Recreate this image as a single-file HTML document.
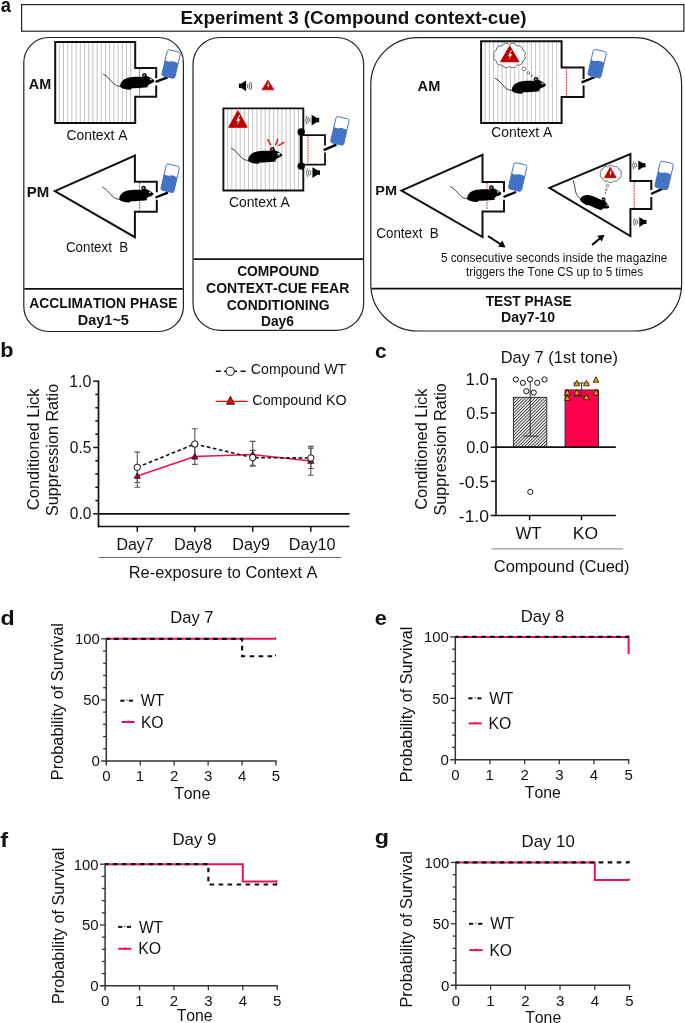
<!DOCTYPE html><html><head><meta charset="utf-8"><style>html,body{margin:0;padding:0;background:#fff;}svg{display:block;will-change:transform;}text{font-family:"Liberation Sans", sans-serif;font-kerning:none;font-variant-ligatures:none;}</style></head><body>
<svg width="685" height="1023" viewBox="0 0 685 1023">

<defs>
 <g id="mbody">
  <path d="M17.2,12.8 C16.6,9 19.5,5 25,3.6 C30,2.4 36,2.5 40,2.9 C42,1.6 44.6,1.7 46,3 C48.3,4 50.2,5.4 51.4,6.9 C50.8,8.3 48.7,9.2 46.6,9.8 C45.7,10.6 44.5,11.5 44,12.3 L45.6,13 L42.4,13.5 C38,14 33,14.2 28.6,14.2 L27.4,15.6 L23.5,15.3 C20.6,14.9 18.2,14 17.2,12.8 Z" fill="#000"/>
  <circle cx="41.3" cy="1.1" r="2.3" fill="#000"/>
  <circle cx="41.2" cy="1.1" r="1.05" fill="#999"/>
  <circle cx="47.7" cy="5.3" r="0.85" fill="#fff"/>
 </g>
 <g id="mouse">
  <path d="M0,0 C4,1.5 7,6 10,9 C12.5,11.3 14.5,12.3 18,12.3" fill="none" stroke="#111" stroke-width="0.8"/>
  <use href="#mbody"/>
 </g>
 <g id="bottle">
  <rect x="0" y="0" width="13.4" height="27" rx="2.2" fill="#fff" stroke="#4472c4" stroke-width="0.9"/>
  <path d="M0,10.8 C2.5,11.8 4.5,11.6 6.5,10.6 C8.5,9.9 10.5,10.5 13.4,11.1 L13.4,24.8 Q13.4,27 11.2,27 L2.2,27 Q0,27 0,24.8 Z" fill="#4472c4"/>
 </g>
 <g id="spk">
  <rect x="0" y="2.8" width="2.8" height="4.5" fill="#000"/>
  <path d="M2.5,2.8 L7.2,-0.2 L7.2,10.5 L2.5,7.3 Z" fill="#000"/>
  <path d="M8.5,3.2 Q9.6,5.15 8.5,7.1 M10.1,2 Q11.8,5.15 10.1,8.3 M11.8,0.9 Q14,5.15 11.8,9.4" fill="none" stroke="#222" stroke-width="0.7"/>
 </g>
 <g id="warn">
  <path d="M6,0 L12,10 L0,10 Z" fill="#c00000" stroke="#c00000" stroke-width="0.8" stroke-linejoin="round"/>
  <path d="M6.9,2.5 L4.9,6.1 L6.2,6.1 L5.3,9 L7.6,5.1 L6.3,5.1 L7.4,2.5 Z" fill="#fff"/>
 </g>
 <pattern id="hatch" x="0" y="0" width="2.25" height="2.25" patternUnits="userSpaceOnUse" patternTransform="rotate(-45)">
  <rect x="0" y="0" width="2.25" height="0.95" fill="#3a3a3a"/>
 </pattern>
</defs>

<rect width="685" height="1023" fill="#fff"/>
<text x="0.66" y="11.7" font-size="21" font-weight="bold" fill="#111" textLength="10.22" lengthAdjust="spacingAndGlyphs">a</text>
<rect x="21.6" y="4.6" width="662.3" height="26.6" fill="none" stroke="#222" stroke-width="1.2"/>
<text x="180.44" y="24.3" font-size="18.5" font-weight="bold" fill="#111" textLength="346.00" lengthAdjust="spacingAndGlyphs">Experiment 3 (Compound context-cue)</text>
<rect x="23.8" y="37.5" width="159.6" height="294" rx="25" fill="none" stroke="#222" stroke-width="1.2"/>
<line x1="24.4" y1="288.9" x2="182.8" y2="288.9" stroke="#111" stroke-width="1.9"/>
<rect x="193" y="37.5" width="170.6" height="292.8" rx="27" fill="none" stroke="#222" stroke-width="1.2"/>
<line x1="193.6" y1="259.1" x2="363" y2="259.1" stroke="#111" stroke-width="1.9"/>
<rect x="370.8" y="37.6" width="310.8" height="293.4" rx="47" fill="none" stroke="#222" stroke-width="1.2"/>
<line x1="371.4" y1="288.6" x2="681" y2="288.6" stroke="#111" stroke-width="1.9"/>
<text x="28.84" y="89" font-size="14" font-weight="bold" fill="#111" textLength="22.32" lengthAdjust="spacingAndGlyphs">AM</text>
<path d="M59.30,42 V123.1 M63.50,42 V123.1 M67.70,42 V123.1 M71.90,42 V123.1 M76.10,42 V123.1 M80.30,42 V123.1 M84.50,42 V123.1 M88.70,42 V123.1 M92.90,42 V123.1 M97.10,42 V123.1 M101.30,42 V123.1 M105.50,42 V123.1 M109.70,42 V123.1 M113.90,42 V123.1 M118.10,42 V123.1 M122.30,42 V123.1 M126.50,42 V123.1 M130.70,42 V123.1 " stroke="#bdbdbd" stroke-width="0.9" fill="none"/>
<path d="M156.2,78.3 V67.9 H135.2 V42 H55.2 V123.1 H135.2 V96.8 H156.2 V85.5" fill="none" stroke="#111" stroke-width="2" stroke-linejoin="miter"/>
<line x1="139.6" y1="68.9" x2="139.6" y2="95.8" stroke="#e52222" stroke-width="1" stroke-dasharray="1.7,1"/>
<use href="#mouse" transform="translate(103.1,74.1)"/>
<line x1="155.6" y1="81.9" x2="167.6" y2="77.3" stroke="#000" stroke-width="2.4"/>
<use href="#bottle" transform="translate(167.6,49.4) rotate(13)"/>
<text x="66.49" y="140.3" font-size="13.8" fill="#111" textLength="61.03" lengthAdjust="spacingAndGlyphs">Context A</text>
<text x="26.70" y="197" font-size="14.3" font-weight="bold" fill="#111" textLength="22.51" lengthAdjust="spacingAndGlyphs">PM</text>
<path d="M156.8,192.3 V181.7 H134.9 V155.5 L54.9,191 L134.9,237.2 V211.8 H156.8 V199.7" fill="none" stroke="#111" stroke-width="2" stroke-linejoin="miter"/>
<line x1="139.6" y1="182.7" x2="139.6" y2="210.8" stroke="#e52222" stroke-width="1" stroke-dasharray="1.7,1"/>
<use href="#mouse" transform="translate(102.2,187)"/>
<line x1="155.6" y1="197.5" x2="167.9" y2="192.6" stroke="#000" stroke-width="2.4"/>
<use href="#bottle" transform="translate(166.6,163.6) rotate(13)"/>
<text x="65.92" y="252" font-size="14" fill="#111" textLength="62.38" lengthAdjust="spacingAndGlyphs">Context&#160;&#160;B</text>
<text x="29.36" y="307.9" font-size="15" font-weight="bold" fill="#111" textLength="148.18" lengthAdjust="spacingAndGlyphs">ACCLIMATION PHASE</text>
<text x="77.83" y="324.6" font-size="14.7" font-weight="bold" fill="#111" textLength="51.07" lengthAdjust="spacingAndGlyphs">Day1~5</text>
<use href="#spk" transform="translate(238.9,80.8)"/>
<use href="#warn" transform="translate(262,80.2) scale(0.99,0.96)"/>
<path d="M227.70,108.4 V190.5 M231.87,108.4 V190.5 M236.04,108.4 V190.5 M240.21,108.4 V190.5 M244.38,108.4 V190.5 M248.55,108.4 V190.5 M252.72,108.4 V190.5 M256.89,108.4 V190.5 M261.06,108.4 V190.5 M265.23,108.4 V190.5 M269.40,108.4 V190.5 M273.57,108.4 V190.5 M277.74,108.4 V190.5 M281.91,108.4 V190.5 M286.08,108.4 V190.5 M290.25,108.4 V190.5 M294.42,108.4 V190.5 M298.59,108.4 V190.5 " stroke="#bdbdbd" stroke-width="0.9" fill="none"/>
<path d="M303.3,132 V108.4 H223.4 V190.5 H303.3 V166" fill="none" stroke="#111" stroke-width="1.9"/>
<use href="#warn" transform="translate(228.9,111) scale(1.5,1.62)"/>
<line x1="301.2" y1="132" x2="301.2" y2="166.1" stroke="#000" stroke-width="2.9"/>
<circle cx="301.2" cy="132" r="3.7" fill="#000"/><circle cx="301.2" cy="166.1" r="3.7" fill="#000"/>
<path d="M302,135.2 H325 V145.5 M325,152.4 V164.6 H302" fill="none" stroke="#111" stroke-width="1.8"/>
<line x1="308" y1="136.3" x2="308" y2="163.6" stroke="#e52222" stroke-width="1" stroke-dasharray="1.7,1"/>
<use href="#spk" transform="translate(319.2,115) scale(-1.05,1)"/>
<use href="#spk" transform="translate(320,167.5) scale(-1.05,1)"/>
<line x1="323.7" y1="150.1" x2="336.4" y2="144.7" stroke="#000" stroke-width="2.4"/>
<use href="#bottle" transform="translate(336.4,116.2) rotate(13)"/>
<use href="#mouse" transform="translate(231.1,148.2)"/>
<path d="M267.4,138.8 L270.9,145.4 M277.9,138.4 L275.5,145.4 M284.5,142.1 L278.4,145.6" stroke="#e02020" stroke-width="1.5" fill="none"/>
<path d="M277.5,153.2 L280.1,155.8 M280.1,153.2 L277.5,155.8" stroke="#fff" stroke-width="0.8"/>
<text x="228.90" y="206.7" font-size="14" fill="#111" textLength="60.93" lengthAdjust="spacingAndGlyphs">Context A</text>
<text x="237.13" y="276" font-size="14.5" font-weight="bold" fill="#111" textLength="82.15" lengthAdjust="spacingAndGlyphs">COMPOUND</text>
<text x="206.03" y="293" font-size="14" font-weight="bold" fill="#111" textLength="143.26" lengthAdjust="spacingAndGlyphs">CONTEXT-CUE FEAR</text>
<text x="226.83" y="310" font-size="14" font-weight="bold" fill="#111" textLength="102.73" lengthAdjust="spacingAndGlyphs">CONDITIONING</text>
<text x="260.98" y="326.1" font-size="13.8" font-weight="bold" fill="#111" textLength="32.92" lengthAdjust="spacingAndGlyphs">Day6</text>
<text x="417.64" y="90.8" font-size="14" font-weight="bold" fill="#111" textLength="22.64" lengthAdjust="spacingAndGlyphs">AM</text>
<path d="M485.20,41.3 V123 M489.40,41.3 V123 M493.60,41.3 V123 M497.80,41.3 V123 M502.00,41.3 V123 M506.20,41.3 V123 M510.40,41.3 V123 M514.60,41.3 V123 M518.80,41.3 V123 M523.00,41.3 V123 M527.20,41.3 V123 M531.40,41.3 V123 M535.60,41.3 V123 M539.80,41.3 V123 M544.00,41.3 V123 M548.20,41.3 V123 M552.40,41.3 V123 M556.60,41.3 V123 " stroke="#bdbdbd" stroke-width="0.9" fill="none"/>
<path d="M583.6,79 V67.4 H561.6 V41.3 H481.1 V123 H561.6 V97 H583.6 V85.5" fill="none" stroke="#111" stroke-width="2" stroke-linejoin="miter"/>
<line x1="566.4" y1="68.4" x2="566.4" y2="96" stroke="#e52222" stroke-width="1" stroke-dasharray="1.7,1"/>
<use href="#mouse" transform="translate(494.7,78.1)"/>
<path d="M524.70,55.50 A3.46,3.46 0 0 1 522.66,60.90 A4.09,4.09 0 0 1 517.10,64.85 A4.64,4.64 0 0 1 509.50,66.30 A4.64,4.64 0 0 1 501.90,64.85 A4.09,4.09 0 0 1 496.34,60.90 A3.46,3.46 0 0 1 494.30,55.50 A3.46,3.46 0 0 1 496.34,50.10 A4.09,4.09 0 0 1 501.90,46.15 A4.64,4.64 0 0 1 509.50,44.70 A4.64,4.64 0 0 1 517.10,46.15 A4.09,4.09 0 0 1 522.66,50.10 A3.46,3.46 0 0 1 524.70,55.50 Z" fill="#fff" stroke="#333" stroke-width="0.7"/>
<use href="#warn" transform="translate(500.8,46.3) scale(1.49,1.53)"/>
<circle cx="524" cy="68.8" r="1.9" fill="#fff" stroke="#333" stroke-width="0.6"/>
<circle cx="528.4" cy="73" r="1.3" fill="#fff" stroke="#333" stroke-width="0.6"/>
<circle cx="531.9" cy="75.8" r="0.7" fill="#fff" stroke="#333" stroke-width="0.6"/>
<line x1="581.6" y1="82.4" x2="595" y2="77" stroke="#000" stroke-width="2.4"/>
<use href="#bottle" transform="translate(593.6,49) rotate(13)"/>
<text x="491.30" y="136.9" font-size="14" fill="#111" textLength="60.93" lengthAdjust="spacingAndGlyphs">Context A</text>
<text x="375.34" y="195" font-size="13.5" font-weight="bold" fill="#111" textLength="21.63" lengthAdjust="spacingAndGlyphs">PM</text>
<path d="M504,192.3 V181.9 H482.5 V154.9 L401.5,190.5 L482.5,237 V211.6 H504 V199.7" fill="none" stroke="#111" stroke-width="2" stroke-linejoin="miter"/>
<line x1="487" y1="182.9" x2="487" y2="210.6" stroke="#e52222" stroke-width="1" stroke-dasharray="1.7,1"/>
<use href="#mouse" transform="translate(450.1,186.5)"/>
<line x1="503.5" y1="197" x2="516" y2="192" stroke="#000" stroke-width="2.4"/>
<use href="#bottle" transform="translate(514.2,162.4) rotate(13)"/>
<text x="376.32" y="238.3" font-size="14.5" fill="#111" textLength="62.38" lengthAdjust="spacingAndGlyphs">Context&#160;&#160;B</text>
<path d="M651.3,190 V181 H630.4 V154 L549.4,187.8 L630.4,236 V208.9 H651.3 V197" fill="none" stroke="#111" stroke-width="2" stroke-linejoin="miter"/>
<line x1="634.2" y1="182" x2="634.2" y2="207.9" stroke="#e52222" stroke-width="1" stroke-dasharray="1.7,1"/>
<use href="#spk" transform="translate(645.5,160.6) scale(-1,0.92)"/>
<use href="#spk" transform="translate(646.5,217.3) scale(-1,0.92)"/>
<line x1="651" y1="194" x2="663" y2="188.5" stroke="#000" stroke-width="2.4"/>
<use href="#bottle" transform="translate(660.6,160.8) rotate(13)"/>
<path d="M573.3,180.3 C574.5,184 574.8,188 575.5,191.3 C576.3,194.5 577.8,197 580.5,198.6" fill="none" stroke="#111" stroke-width="0.8"/>
<use href="#mbody" transform="translate(579.9,199.2) rotate(25.8) scale(0.88) translate(-17,-12.6)"/>
<path d="M621.00,173.90 A2.86,2.86 0 0 1 619.05,178.25 A3.46,3.46 0 0 1 613.95,180.94 A3.78,3.78 0 0 1 607.65,180.94 A3.46,3.46 0 0 1 602.55,178.25 A2.86,2.86 0 0 1 600.60,173.90 A2.86,2.86 0 0 1 602.55,169.55 A3.46,3.46 0 0 1 607.65,166.86 A3.78,3.78 0 0 1 613.95,166.86 A3.46,3.46 0 0 1 619.05,169.55 A2.86,2.86 0 0 1 621.00,173.90 Z" fill="#fff" stroke="#333" stroke-width="0.7"/>
<use href="#warn" transform="translate(604.4,167.2) scale(0.98,1.05)"/>
<circle cx="607.5" cy="185.6" r="1.3" fill="#fff" stroke="#333" stroke-width="0.6"/>
<circle cx="606.2" cy="189.6" r="0.9" fill="#fff" stroke="#333" stroke-width="0.6"/>
<circle cx="605.6" cy="193" r="0.55" fill="#fff" stroke="#333" stroke-width="0.6"/>
<line x1="488" y1="236" x2="501" y2="244.5" stroke="#000" stroke-width="2"/>
<path d="M505.6,247.4 L498.2,246.8 L502.3,240.6 Z" fill="#000"/>
<line x1="592" y1="245" x2="601" y2="237.5" stroke="#000" stroke-width="2"/>
<path d="M604.5,234.7 L601.8,241.4 L597.2,235.8 Z" fill="#000"/>
<text x="440.93" y="261.9" font-size="13.2" fill="#111" textLength="226.29" lengthAdjust="spacingAndGlyphs">5 consecutive seconds inside the magazine</text>
<text x="466.12" y="275.7" font-size="13.2" fill="#111" textLength="177.00" lengthAdjust="spacingAndGlyphs">triggers the Tone CS up to 5 times</text>
<text x="485.65" y="305.6" font-size="14.2" font-weight="bold" fill="#111" textLength="86.09" lengthAdjust="spacingAndGlyphs">TEST PHASE</text>
<text x="500.96" y="322.4" font-size="14.2" font-weight="bold" fill="#111" textLength="54.12" lengthAdjust="spacingAndGlyphs">Day7-10</text>
<text x="0.32" y="357.1" font-size="21" font-weight="bold" fill="#111" textLength="13.27" lengthAdjust="spacingAndGlyphs">b</text>
<line x1="98.5" y1="380.3999999999999" x2="98.5" y2="527.3" stroke="#111" stroke-width="1.7"/>
<line x1="93.2" y1="513.80" x2="98.5" y2="513.80" stroke="#111" stroke-width="1.5"/>
<line x1="95.3" y1="500.54" x2="98.5" y2="500.54" stroke="#111" stroke-width="1.5"/>
<line x1="95.3" y1="487.28" x2="98.5" y2="487.28" stroke="#111" stroke-width="1.5"/>
<line x1="95.3" y1="474.02" x2="98.5" y2="474.02" stroke="#111" stroke-width="1.5"/>
<line x1="95.3" y1="460.76" x2="98.5" y2="460.76" stroke="#111" stroke-width="1.5"/>
<line x1="93.2" y1="447.50" x2="98.5" y2="447.50" stroke="#111" stroke-width="1.5"/>
<line x1="95.3" y1="434.24" x2="98.5" y2="434.24" stroke="#111" stroke-width="1.5"/>
<line x1="95.3" y1="420.98" x2="98.5" y2="420.98" stroke="#111" stroke-width="1.5"/>
<line x1="95.3" y1="407.72" x2="98.5" y2="407.72" stroke="#111" stroke-width="1.5"/>
<line x1="95.3" y1="394.46" x2="98.5" y2="394.46" stroke="#111" stroke-width="1.5"/>
<line x1="93.2" y1="381.20" x2="98.5" y2="381.20" stroke="#111" stroke-width="1.5"/>
<text x="69.18" y="386.8" font-size="16.4" fill="#111" textLength="22.24" lengthAdjust="spacingAndGlyphs">1.0</text>
<text x="69.79" y="453.1" font-size="16.4" fill="#111" textLength="21.66" lengthAdjust="spacingAndGlyphs">0.5</text>
<text x="69.79" y="519.4" font-size="16.4" fill="#111" textLength="21.61" lengthAdjust="spacingAndGlyphs">0.0</text>
<line x1="98.5" y1="513.80" x2="349.5" y2="513.80" stroke="#111" stroke-width="1.7"/>
<line x1="97.65" y1="526.5" x2="349.5" y2="526.5" stroke="#111" stroke-width="1.7"/>
<line x1="137.3" y1="526.5" x2="137.3" y2="531.8" stroke="#111" stroke-width="1.5"/>
<line x1="194.8" y1="526.5" x2="194.8" y2="531.8" stroke="#111" stroke-width="1.5"/>
<line x1="252.7" y1="526.5" x2="252.7" y2="531.8" stroke="#111" stroke-width="1.5"/>
<line x1="310.8" y1="526.5" x2="310.8" y2="531.8" stroke="#111" stroke-width="1.5"/>
<text x="116.39" y="549.5" font-size="16.8" fill="#111" textLength="37.32" lengthAdjust="spacingAndGlyphs">Day7</text>
<text x="173.96" y="549.5" font-size="16.8" fill="#111" textLength="38.05" lengthAdjust="spacingAndGlyphs">Day8</text>
<text x="232.27" y="549.5" font-size="16.8" fill="#111" textLength="37.79" lengthAdjust="spacingAndGlyphs">Day9</text>
<text x="288.77" y="549.5" font-size="16.8" fill="#111" textLength="46.86" lengthAdjust="spacingAndGlyphs">Day10</text>
<line x1="98.7" y1="557.4" x2="341.3" y2="557.4" stroke="#666" stroke-width="1"/>
<text x="128.75" y="577.8" font-size="15.6" fill="#111" textLength="188.68" lengthAdjust="spacingAndGlyphs">Re-exposure to Context A</text>
<text transform="translate(38.8,510.14) rotate(-90)" x="0" y="0" font-size="17" fill="#111" textLength="121.71" lengthAdjust="spacingAndGlyphs">Conditioned Lick</text>
<text transform="translate(58.3,516.03) rotate(-90)" x="0" y="0" font-size="17" fill="#111" textLength="132.21" lengthAdjust="spacingAndGlyphs">Suppression Ratio</text>
<path d="M137.3,452.1 V482.5 M134.4,452.1 H140.20000000000002 M134.4,482.5 H140.20000000000002" stroke="#555" stroke-width="1.1" fill="none"/>
<path d="M137.3,466.0 V487.2 M134.4,466.0 H140.20000000000002 M134.4,487.2 H140.20000000000002" stroke="#555" stroke-width="1.1" fill="none"/>
<path d="M194.8,428.8 V459.0 M191.9,428.8 H197.70000000000002 M191.9,459.0 H197.70000000000002" stroke="#555" stroke-width="1.1" fill="none"/>
<path d="M194.8,446.6 V464.4 M191.9,446.6 H197.70000000000002 M191.9,464.4 H197.70000000000002" stroke="#555" stroke-width="1.1" fill="none"/>
<path d="M252.7,441.4 V466.1 M249.79999999999998,441.4 H255.6 M249.79999999999998,466.1 H255.6" stroke="#555" stroke-width="1.1" fill="none"/>
<path d="M252.7,450.4 V465.2 M249.79999999999998,450.4 H255.6 M249.79999999999998,465.2 H255.6" stroke="#555" stroke-width="1.1" fill="none"/>
<path d="M310.8,446.4 V468.5 M307.90000000000003,446.4 H313.7 M307.90000000000003,468.5 H313.7" stroke="#555" stroke-width="1.1" fill="none"/>
<path d="M310.8,448.1 V475.3 M307.90000000000003,448.1 H313.7 M307.90000000000003,475.3 H313.7" stroke="#555" stroke-width="1.1" fill="none"/>
<polyline points="137.3,476.0 194.8,456.5 252.7,454.5 310.8,461.0" fill="none" stroke="#f0104a" stroke-width="1.5"/>
<polyline points="137.3,467.3 194.8,444.0 252.7,457.6 310.8,458.0" fill="none" stroke="#111" stroke-width="1.6" stroke-dasharray="3.6,2.6"/>
<path d="M137.3,472.9 L140.4,478.3 L134.20000000000002,478.3 Z" fill="#b0003a" stroke="#111" stroke-width="0.8" stroke-linejoin="round"/>
<path d="M194.8,453.4 L197.9,458.8 L191.70000000000002,458.8 Z" fill="#b0003a" stroke="#111" stroke-width="0.8" stroke-linejoin="round"/>
<path d="M252.7,451.4 L255.79999999999998,456.8 L249.6,456.8 Z" fill="#b0003a" stroke="#111" stroke-width="0.8" stroke-linejoin="round"/>
<path d="M310.8,457.9 L313.90000000000003,463.3 L307.7,463.3 Z" fill="#b0003a" stroke="#111" stroke-width="0.8" stroke-linejoin="round"/>
<circle cx="137.3" cy="467.3" r="3.2" fill="#fff" stroke="#111" stroke-width="1"/>
<circle cx="194.8" cy="444.0" r="3.2" fill="#fff" stroke="#111" stroke-width="1"/>
<circle cx="252.7" cy="457.6" r="3.2" fill="#fff" stroke="#111" stroke-width="1"/>
<circle cx="310.8" cy="458.0" r="3.2" fill="#fff" stroke="#111" stroke-width="1"/>
<path d="M215.8,371.3 H220.9 M224.1,371.3 H226.5 M233.9,371.3 H237 M240.5,371.3 H245.6" stroke="#111" stroke-width="1.5" fill="none"/>
<circle cx="230.2" cy="371.3" r="4.1" fill="#fff" stroke="#111" stroke-width="1"/>
<text x="250.78" y="373.8" font-size="14" fill="#111" textLength="95.45" lengthAdjust="spacingAndGlyphs">Compound WT</text>
<line x1="215.8" y1="401.3" x2="247.6" y2="401.3" stroke="#ff0000" stroke-width="1.3"/>
<path d="M230.4,396.3 L234.5,404.2 L226.5,404.2 Z" fill="#ff0000" stroke="#111" stroke-width="0.9" stroke-linejoin="round"/>
<text x="252.38" y="405.1" font-size="14" fill="#111" textLength="94.20" lengthAdjust="spacingAndGlyphs">Compound KO</text>
<text x="374.98" y="357.8" font-size="21" font-weight="bold" fill="#111" textLength="11.63" lengthAdjust="spacingAndGlyphs">c</text>
<text x="500.65" y="363.2" font-size="16.8" fill="#111" textLength="117.27" lengthAdjust="spacingAndGlyphs">Day 7 (1st tone)</text>
<rect x="513.4" y="397.3" width="33.4" height="49.90" fill="url(#hatch)" stroke="#222" stroke-width="0.9"/>
<rect x="565" y="389.9" width="33.6" height="57.30" fill="#ff004d" stroke="#222" stroke-width="0.8"/>
<path d="M530.2,382 V436.1 M523.4,436.1 H538.8" stroke="#333" stroke-width="1" fill="none"/>
<path d="M581.6,383 V396.1 M573.2,383 H589.3 M573.2,396.1 H589.3" stroke="#333" stroke-width="1" fill="none"/>
<circle cx="515.8" cy="379.5" r="2.6" fill="#fff" stroke="#111" stroke-width="1"/>
<circle cx="522.9" cy="382.8" r="2.6" fill="#fff" stroke="#111" stroke-width="1"/>
<circle cx="530" cy="379.3" r="2.6" fill="#fff" stroke="#111" stroke-width="1"/>
<circle cx="537.2" cy="382.8" r="2.6" fill="#fff" stroke="#111" stroke-width="1"/>
<circle cx="544.5" cy="379.5" r="2.6" fill="#fff" stroke="#111" stroke-width="1"/>
<circle cx="526.3" cy="391.2" r="2.6" fill="#fff" stroke="#111" stroke-width="1"/>
<circle cx="533.7" cy="392.6" r="2.6" fill="#fff" stroke="#111" stroke-width="1"/>
<circle cx="530.3" cy="491.9" r="2.6" fill="#fff" stroke="#111" stroke-width="1"/>
<path d="M576.8,380.3 L579.6999999999999,385.8 L573.9,385.8 Z" fill="#ff9a00" stroke="#111" stroke-width="0.8" stroke-linejoin="round"/>
<path d="M586.4,380.3 L589.3,385.8 L583.5,385.8 Z" fill="#ff9a00" stroke="#111" stroke-width="0.8" stroke-linejoin="round"/>
<path d="M596,376.7 L598.9,382.2 L593.1,382.2 Z" fill="#ff9a00" stroke="#111" stroke-width="0.8" stroke-linejoin="round"/>
<path d="M567.3,389.40000000000003 L570.1999999999999,394.90000000000003 L564.4,394.90000000000003 Z" fill="#ff9a00" stroke="#111" stroke-width="0.8" stroke-linejoin="round"/>
<path d="M576.8,389.40000000000003 L579.6999999999999,394.90000000000003 L573.9,394.90000000000003 Z" fill="#ff9a00" stroke="#111" stroke-width="0.8" stroke-linejoin="round"/>
<path d="M596,389.40000000000003 L598.9,394.90000000000003 L593.1,394.90000000000003 Z" fill="#ff9a00" stroke="#111" stroke-width="0.8" stroke-linejoin="round"/>
<path d="M567.3,394.90000000000003 L570.1999999999999,400.40000000000003 L564.4,400.40000000000003 Z" fill="#ff9a00" stroke="#111" stroke-width="0.8" stroke-linejoin="round"/>
<path d="M586.4,394.2 L589.3,399.7 L583.5,399.7 Z" fill="#ff9a00" stroke="#111" stroke-width="0.8" stroke-linejoin="round"/>
<line x1="496.0" y1="378.09999999999997" x2="496.0" y2="516.3" stroke="#111" stroke-width="1.6"/>
<line x1="490.8" y1="378.90" x2="496.0" y2="378.90" stroke="#111" stroke-width="1.5"/>
<line x1="490.8" y1="413.05" x2="496.0" y2="413.05" stroke="#111" stroke-width="1.5"/>
<line x1="490.8" y1="447.20" x2="496.0" y2="447.20" stroke="#111" stroke-width="1.5"/>
<line x1="490.8" y1="481.35" x2="496.0" y2="481.35" stroke="#111" stroke-width="1.5"/>
<line x1="490.8" y1="515.50" x2="496.0" y2="515.50" stroke="#111" stroke-width="1.5"/>
<line x1="496.0" y1="447.20" x2="615.8" y2="447.20" stroke="#111" stroke-width="1.7"/>
<line x1="496.0" y1="515.50" x2="615.8" y2="515.50" stroke="#111" stroke-width="1.7"/>
<line x1="529.6" y1="515.50" x2="529.6" y2="520.2" stroke="#111" stroke-width="1.5"/>
<line x1="581.5" y1="515.50" x2="581.5" y2="520.2" stroke="#111" stroke-width="1.5"/>
<text x="465.52" y="385.1" font-size="16.6" fill="#111" textLength="23.44" lengthAdjust="spacingAndGlyphs">1.0</text>
<text x="466.16" y="419.25" font-size="16.6" fill="#111" textLength="22.83" lengthAdjust="spacingAndGlyphs">0.5</text>
<text x="466.16" y="453.4" font-size="16.6" fill="#111" textLength="22.78" lengthAdjust="spacingAndGlyphs">0.0</text>
<text x="458.82" y="487.55" font-size="16.6" fill="#111" textLength="30.22" lengthAdjust="spacingAndGlyphs">-0.5</text>
<text x="458.82" y="521.7" font-size="16.6" fill="#111" textLength="30.16" lengthAdjust="spacingAndGlyphs">-1.0</text>
<text x="515.43" y="539.4" font-size="17" fill="#111" textLength="26.06" lengthAdjust="spacingAndGlyphs">WT</text>
<text x="572.87" y="539.4" font-size="17" fill="#111" textLength="25.27" lengthAdjust="spacingAndGlyphs">KO</text>
<line x1="491.5" y1="548.9" x2="623.2" y2="548.9" stroke="#999" stroke-width="1.2"/>
<text x="493.76" y="572.1" font-size="15.6" fill="#111" textLength="135.76" lengthAdjust="spacingAndGlyphs">Compound (Cued)</text>
<text transform="translate(426.5,509.73) rotate(-90)" x="0" y="0" font-size="17" fill="#111" textLength="121.21" lengthAdjust="spacingAndGlyphs">Conditioned Lick</text>
<text transform="translate(446.1,515.44) rotate(-90)" x="0" y="0" font-size="17" fill="#111" textLength="132.32" lengthAdjust="spacingAndGlyphs">Suppression Ratio</text>
<text x="0.45" y="625.1" font-size="21" font-weight="bold" fill="#111" textLength="14.18" lengthAdjust="spacingAndGlyphs">d</text>
<text x="170.24" y="623" font-size="17" fill="#111" textLength="43.29" lengthAdjust="spacingAndGlyphs">Day 7</text>
<path d="M106.3,638.8 H276.0" fill="none" stroke="#ec1052" stroke-width="2"/>
<line x1="275.70" y1="637.00" x2="275.70" y2="638.80" stroke="#ec1052" stroke-width="1"/>
<path d="M106.3,638.8 H242.06 V656.2746 H276.0" fill="none" stroke="#111" stroke-width="2.2" stroke-dasharray="4.6,4.4" stroke-dashoffset="1.2"/>
<line x1="275.50" y1="654.57" x2="275.50" y2="656.27" stroke="#111" stroke-width="1"/>
<line x1="106.3" y1="638.0" x2="106.3" y2="765.5" stroke="#333" stroke-width="1.5"/>
<line x1="101.2" y1="761.0" x2="276.7" y2="761.0" stroke="#333" stroke-width="1.5"/>
<line x1="103.10" y1="748.78" x2="106.3" y2="748.78" stroke="#333" stroke-width="1.3"/>
<line x1="103.10" y1="736.56" x2="106.3" y2="736.56" stroke="#333" stroke-width="1.3"/>
<line x1="103.10" y1="724.34" x2="106.3" y2="724.34" stroke="#333" stroke-width="1.3"/>
<line x1="103.10" y1="712.12" x2="106.3" y2="712.12" stroke="#333" stroke-width="1.3"/>
<line x1="101.20" y1="699.90" x2="106.3" y2="699.90" stroke="#333" stroke-width="1.3"/>
<line x1="103.10" y1="687.68" x2="106.3" y2="687.68" stroke="#333" stroke-width="1.3"/>
<line x1="103.10" y1="675.46" x2="106.3" y2="675.46" stroke="#333" stroke-width="1.3"/>
<line x1="103.10" y1="663.24" x2="106.3" y2="663.24" stroke="#333" stroke-width="1.3"/>
<line x1="103.10" y1="651.02" x2="106.3" y2="651.02" stroke="#333" stroke-width="1.3"/>
<line x1="101.20" y1="638.80" x2="106.3" y2="638.80" stroke="#333" stroke-width="1.3"/>
<line x1="140.24" y1="761.0" x2="140.24" y2="765.5" stroke="#333" stroke-width="1.3"/>
<line x1="174.18" y1="761.0" x2="174.18" y2="765.5" stroke="#333" stroke-width="1.3"/>
<line x1="208.12" y1="761.0" x2="208.12" y2="765.5" stroke="#333" stroke-width="1.3"/>
<line x1="242.06" y1="761.0" x2="242.06" y2="765.5" stroke="#333" stroke-width="1.3"/>
<line x1="276.00" y1="761.0" x2="276.00" y2="765.5" stroke="#333" stroke-width="1.3"/>
<text x="102.13" y="781.3" font-size="15" fill="#111">0</text>
<text x="135.86" y="781.3" font-size="15" fill="#111">1</text>
<text x="170.01" y="781.3" font-size="15" fill="#111">2</text>
<text x="203.99" y="781.3" font-size="15" fill="#111">3</text>
<text x="237.94" y="781.3" font-size="15" fill="#111">4</text>
<text x="271.84" y="781.3" font-size="15" fill="#111">5</text>
<text x="74.97" y="644.2" font-size="15.2" fill="#111" textLength="24.81" lengthAdjust="spacingAndGlyphs">100</text>
<text x="83.15" y="705.3" font-size="15.2" fill="#111" textLength="16.63" lengthAdjust="spacingAndGlyphs">50</text>
<text x="91.41" y="766.4" font-size="15.2" fill="#111" textLength="8.38" lengthAdjust="spacingAndGlyphs">0</text>
<text transform="translate(63.4,780.24) rotate(-90)" x="0" y="0" font-size="17" fill="#111" textLength="157.24" lengthAdjust="spacingAndGlyphs">Probability of Survival</text>
<text x="174.14" y="799.2" font-size="17.3" fill="#111" textLength="36.06" lengthAdjust="spacingAndGlyphs">Tone</text>
<line x1="120.3" y1="700.7" x2="124.5" y2="700.7" stroke="#111" stroke-width="2"/>
<line x1="126.95" y1="699.5" x2="126.95" y2="700.9000000000001" stroke="#111" stroke-width="0.8"/>
<line x1="128.8" y1="700.7" x2="133" y2="700.7" stroke="#111" stroke-width="2"/>
<text x="140.83" y="705.8" font-size="15.6" fill="#111" textLength="23.41" lengthAdjust="spacingAndGlyphs">WT</text>
<line x1="121.8" y1="722" x2="134.6" y2="722" stroke="#ec1052" stroke-width="2"/>
<line x1="128.2" y1="720.2" x2="128.2" y2="722" stroke="#ec1052" stroke-width="0.9"/>
<text x="140.91" y="727.5" font-size="15.6" fill="#111" textLength="22.63" lengthAdjust="spacingAndGlyphs">KO</text>
<text x="374.75" y="624.6" font-size="21" font-weight="bold" fill="#111" textLength="12.09" lengthAdjust="spacingAndGlyphs">e</text>
<text x="520.84" y="621.7" font-size="17" fill="#111" textLength="43.38" lengthAdjust="spacingAndGlyphs">Day 8</text>
<path d="M455.3,636.9 H628.6 V654.092" fill="none" stroke="#ec1052" stroke-width="2"/>
<path d="M455.3,636.9 H628.6" fill="none" stroke="#111" stroke-width="2.2" stroke-dasharray="4.6,4.4" stroke-dashoffset="1.2"/>
<line x1="628.10" y1="635.20" x2="628.10" y2="636.90" stroke="#111" stroke-width="1"/>
<line x1="455.3" y1="636.1" x2="455.3" y2="764.2" stroke="#333" stroke-width="1.5"/>
<line x1="450.2" y1="759.7" x2="629.3000000000001" y2="759.7" stroke="#333" stroke-width="1.5"/>
<line x1="452.10" y1="747.42" x2="455.3" y2="747.42" stroke="#333" stroke-width="1.3"/>
<line x1="452.10" y1="735.14" x2="455.3" y2="735.14" stroke="#333" stroke-width="1.3"/>
<line x1="452.10" y1="722.86" x2="455.3" y2="722.86" stroke="#333" stroke-width="1.3"/>
<line x1="452.10" y1="710.58" x2="455.3" y2="710.58" stroke="#333" stroke-width="1.3"/>
<line x1="450.20" y1="698.30" x2="455.3" y2="698.30" stroke="#333" stroke-width="1.3"/>
<line x1="452.10" y1="686.02" x2="455.3" y2="686.02" stroke="#333" stroke-width="1.3"/>
<line x1="452.10" y1="673.74" x2="455.3" y2="673.74" stroke="#333" stroke-width="1.3"/>
<line x1="452.10" y1="661.46" x2="455.3" y2="661.46" stroke="#333" stroke-width="1.3"/>
<line x1="452.10" y1="649.18" x2="455.3" y2="649.18" stroke="#333" stroke-width="1.3"/>
<line x1="450.20" y1="636.90" x2="455.3" y2="636.90" stroke="#333" stroke-width="1.3"/>
<line x1="489.96" y1="759.7" x2="489.96" y2="764.2" stroke="#333" stroke-width="1.3"/>
<line x1="524.62" y1="759.7" x2="524.62" y2="764.2" stroke="#333" stroke-width="1.3"/>
<line x1="559.28" y1="759.7" x2="559.28" y2="764.2" stroke="#333" stroke-width="1.3"/>
<line x1="593.94" y1="759.7" x2="593.94" y2="764.2" stroke="#333" stroke-width="1.3"/>
<line x1="628.60" y1="759.7" x2="628.60" y2="764.2" stroke="#333" stroke-width="1.3"/>
<text x="451.13" y="780.0" font-size="15" fill="#111">0</text>
<text x="485.58" y="780.0" font-size="15" fill="#111">1</text>
<text x="520.45" y="780.0" font-size="15" fill="#111">2</text>
<text x="555.15" y="780.0" font-size="15" fill="#111">3</text>
<text x="589.82" y="780.0" font-size="15" fill="#111">4</text>
<text x="624.44" y="780.0" font-size="15" fill="#111">5</text>
<text x="423.97" y="642.3" font-size="15.2" fill="#111" textLength="24.81" lengthAdjust="spacingAndGlyphs">100</text>
<text x="432.15" y="703.7" font-size="15.2" fill="#111" textLength="16.63" lengthAdjust="spacingAndGlyphs">50</text>
<text x="440.41" y="765.1" font-size="15.2" fill="#111" textLength="8.38" lengthAdjust="spacingAndGlyphs">0</text>
<text transform="translate(412.1,782.33) rotate(-90)" x="0" y="0" font-size="17" fill="#111" textLength="155.71" lengthAdjust="spacingAndGlyphs">Probability of Survival</text>
<text x="524.74" y="798" font-size="17.3" fill="#111" textLength="36.06" lengthAdjust="spacingAndGlyphs">Tone</text>
<line x1="468.3" y1="698.3" x2="472.5" y2="698.3" stroke="#111" stroke-width="2"/>
<line x1="475.2" y1="697.0999999999999" x2="475.2" y2="698.5" stroke="#111" stroke-width="0.8"/>
<line x1="477.3" y1="698.3" x2="481.5" y2="698.3" stroke="#111" stroke-width="2"/>
<text x="489.23" y="703.8" font-size="15.6" fill="#111" textLength="24.12" lengthAdjust="spacingAndGlyphs">WT</text>
<line x1="468.6" y1="723.4" x2="481.7" y2="723.4" stroke="#ec1052" stroke-width="2"/>
<line x1="475.15" y1="721.6" x2="475.15" y2="723.4" stroke="#ec1052" stroke-width="0.9"/>
<text x="488.50" y="728.8" font-size="15.6" fill="#111" textLength="22.85" lengthAdjust="spacingAndGlyphs">KO</text>
<text x="0.20" y="846.9" font-size="21" font-weight="bold" fill="#111" textLength="7.86" lengthAdjust="spacingAndGlyphs">f</text>
<text x="172.42" y="844.7" font-size="17" fill="#111" textLength="43.98" lengthAdjust="spacingAndGlyphs">Day 9</text>
<path d="M105.1,864.2 H242.78 V881.5888 H277.2" fill="none" stroke="#ec1052" stroke-width="2"/>
<line x1="276.90" y1="879.79" x2="276.90" y2="881.59" stroke="#ec1052" stroke-width="1"/>
<path d="M105.1,864.2 H208.35999999999999 V884.5072 H277.2" fill="none" stroke="#111" stroke-width="2.2" stroke-dasharray="4.6,4.4" stroke-dashoffset="1.2"/>
<line x1="276.70" y1="882.81" x2="276.70" y2="884.51" stroke="#111" stroke-width="1"/>
<line x1="105.1" y1="863.4000000000001" x2="105.1" y2="990.3" stroke="#333" stroke-width="1.5"/>
<line x1="100.0" y1="985.8" x2="277.9" y2="985.8" stroke="#333" stroke-width="1.5"/>
<line x1="101.90" y1="973.64" x2="105.1" y2="973.64" stroke="#333" stroke-width="1.3"/>
<line x1="101.90" y1="961.48" x2="105.1" y2="961.48" stroke="#333" stroke-width="1.3"/>
<line x1="101.90" y1="949.32" x2="105.1" y2="949.32" stroke="#333" stroke-width="1.3"/>
<line x1="101.90" y1="937.16" x2="105.1" y2="937.16" stroke="#333" stroke-width="1.3"/>
<line x1="100.00" y1="925.00" x2="105.1" y2="925.00" stroke="#333" stroke-width="1.3"/>
<line x1="101.90" y1="912.84" x2="105.1" y2="912.84" stroke="#333" stroke-width="1.3"/>
<line x1="101.90" y1="900.68" x2="105.1" y2="900.68" stroke="#333" stroke-width="1.3"/>
<line x1="101.90" y1="888.52" x2="105.1" y2="888.52" stroke="#333" stroke-width="1.3"/>
<line x1="101.90" y1="876.36" x2="105.1" y2="876.36" stroke="#333" stroke-width="1.3"/>
<line x1="100.00" y1="864.20" x2="105.1" y2="864.20" stroke="#333" stroke-width="1.3"/>
<line x1="139.52" y1="985.8" x2="139.52" y2="990.3" stroke="#333" stroke-width="1.3"/>
<line x1="173.94" y1="985.8" x2="173.94" y2="990.3" stroke="#333" stroke-width="1.3"/>
<line x1="208.36" y1="985.8" x2="208.36" y2="990.3" stroke="#333" stroke-width="1.3"/>
<line x1="242.78" y1="985.8" x2="242.78" y2="990.3" stroke="#333" stroke-width="1.3"/>
<line x1="277.20" y1="985.8" x2="277.20" y2="990.3" stroke="#333" stroke-width="1.3"/>
<text x="100.93" y="1006.1" font-size="15" fill="#111">0</text>
<text x="135.14" y="1006.1" font-size="15" fill="#111">1</text>
<text x="169.77" y="1006.1" font-size="15" fill="#111">2</text>
<text x="204.23" y="1006.1" font-size="15" fill="#111">3</text>
<text x="238.66" y="1006.1" font-size="15" fill="#111">4</text>
<text x="273.04" y="1006.1" font-size="15" fill="#111">5</text>
<text x="73.77" y="869.6" font-size="15.2" fill="#111" textLength="24.81" lengthAdjust="spacingAndGlyphs">100</text>
<text x="81.95" y="930.4" font-size="15.2" fill="#111" textLength="16.63" lengthAdjust="spacingAndGlyphs">50</text>
<text x="90.21" y="991.2" font-size="15.2" fill="#111" textLength="8.38" lengthAdjust="spacingAndGlyphs">0</text>
<text transform="translate(63.6,1004.03) rotate(-90)" x="0" y="0" font-size="17" fill="#111" textLength="156.32" lengthAdjust="spacingAndGlyphs">Probability of Survival</text>
<text x="176.65" y="1021" font-size="17.3" fill="#111" textLength="35.96" lengthAdjust="spacingAndGlyphs">Tone</text>
<line x1="118.1" y1="926.9" x2="122.3" y2="926.9" stroke="#111" stroke-width="2"/>
<line x1="124.85" y1="925.6999999999999" x2="124.85" y2="927.1" stroke="#111" stroke-width="0.8"/>
<line x1="126.8" y1="926.9" x2="131" y2="926.9" stroke="#111" stroke-width="2"/>
<text x="139.03" y="932.6" font-size="15.6" fill="#111" textLength="23.92" lengthAdjust="spacingAndGlyphs">WT</text>
<line x1="118.3" y1="948.8" x2="131.3" y2="948.8" stroke="#ec1052" stroke-width="2"/>
<line x1="124.80000000000001" y1="947.0" x2="124.80000000000001" y2="948.8" stroke="#ec1052" stroke-width="0.9"/>
<text x="138.20" y="954.2" font-size="15.6" fill="#111" textLength="22.96" lengthAdjust="spacingAndGlyphs">KO</text>
<text x="374.65" y="844.4" font-size="21" font-weight="bold" fill="#111" textLength="14.21" lengthAdjust="spacingAndGlyphs">g</text>
<text x="521.62" y="846.5" font-size="17" fill="#111" textLength="53.13" lengthAdjust="spacingAndGlyphs">Day 10</text>
<path d="M455.9,862.4 H594.78 V879.9603999999999 H629.5" fill="none" stroke="#ec1052" stroke-width="2"/>
<line x1="629.20" y1="878.16" x2="629.20" y2="879.96" stroke="#ec1052" stroke-width="1"/>
<path d="M455.9,862.4 H629.5" fill="none" stroke="#111" stroke-width="2.2" stroke-dasharray="4.6,4.4" stroke-dashoffset="1.2"/>
<line x1="629.00" y1="860.70" x2="629.00" y2="862.40" stroke="#111" stroke-width="1"/>
<line x1="455.9" y1="861.6" x2="455.9" y2="989.7" stroke="#333" stroke-width="1.5"/>
<line x1="450.79999999999995" y1="985.2" x2="630.2" y2="985.2" stroke="#333" stroke-width="1.5"/>
<line x1="452.70" y1="972.92" x2="455.9" y2="972.92" stroke="#333" stroke-width="1.3"/>
<line x1="452.70" y1="960.64" x2="455.9" y2="960.64" stroke="#333" stroke-width="1.3"/>
<line x1="452.70" y1="948.36" x2="455.9" y2="948.36" stroke="#333" stroke-width="1.3"/>
<line x1="452.70" y1="936.08" x2="455.9" y2="936.08" stroke="#333" stroke-width="1.3"/>
<line x1="450.80" y1="923.80" x2="455.9" y2="923.80" stroke="#333" stroke-width="1.3"/>
<line x1="452.70" y1="911.52" x2="455.9" y2="911.52" stroke="#333" stroke-width="1.3"/>
<line x1="452.70" y1="899.24" x2="455.9" y2="899.24" stroke="#333" stroke-width="1.3"/>
<line x1="452.70" y1="886.96" x2="455.9" y2="886.96" stroke="#333" stroke-width="1.3"/>
<line x1="452.70" y1="874.68" x2="455.9" y2="874.68" stroke="#333" stroke-width="1.3"/>
<line x1="450.80" y1="862.40" x2="455.9" y2="862.40" stroke="#333" stroke-width="1.3"/>
<line x1="490.62" y1="985.2" x2="490.62" y2="989.7" stroke="#333" stroke-width="1.3"/>
<line x1="525.34" y1="985.2" x2="525.34" y2="989.7" stroke="#333" stroke-width="1.3"/>
<line x1="560.06" y1="985.2" x2="560.06" y2="989.7" stroke="#333" stroke-width="1.3"/>
<line x1="594.78" y1="985.2" x2="594.78" y2="989.7" stroke="#333" stroke-width="1.3"/>
<line x1="629.50" y1="985.2" x2="629.50" y2="989.7" stroke="#333" stroke-width="1.3"/>
<text x="451.73" y="1006.0" font-size="15" fill="#111">0</text>
<text x="486.24" y="1006.0" font-size="15" fill="#111">1</text>
<text x="521.17" y="1006.0" font-size="15" fill="#111">2</text>
<text x="555.93" y="1006.0" font-size="15" fill="#111">3</text>
<text x="590.66" y="1006.0" font-size="15" fill="#111">4</text>
<text x="625.34" y="1006.0" font-size="15" fill="#111">5</text>
<text x="424.57" y="867.8" font-size="15.2" fill="#111" textLength="24.81" lengthAdjust="spacingAndGlyphs">100</text>
<text x="432.75" y="929.2" font-size="15.2" fill="#111" textLength="16.63" lengthAdjust="spacingAndGlyphs">50</text>
<text x="441.01" y="990.6" font-size="15.2" fill="#111" textLength="8.38" lengthAdjust="spacingAndGlyphs">0</text>
<text transform="translate(412.1,1007.53) rotate(-90)" x="0" y="0" font-size="17" fill="#111" textLength="156.32" lengthAdjust="spacingAndGlyphs">Probability of Survival</text>
<text x="525.14" y="1022.7" font-size="17.3" fill="#111" textLength="36.06" lengthAdjust="spacingAndGlyphs">Tone</text>
<line x1="469" y1="923.8" x2="473.2" y2="923.8" stroke="#111" stroke-width="2"/>
<line x1="475.95" y1="922.5999999999999" x2="475.95" y2="924.0" stroke="#111" stroke-width="0.8"/>
<line x1="478.1" y1="923.8" x2="482.3" y2="923.8" stroke="#111" stroke-width="2"/>
<text x="490.13" y="929.3" font-size="15.6" fill="#111" textLength="23.82" lengthAdjust="spacingAndGlyphs">WT</text>
<line x1="469.2" y1="950.1" x2="482.6" y2="950.1" stroke="#ec1052" stroke-width="2"/>
<line x1="475.9" y1="948.3000000000001" x2="475.9" y2="950.1" stroke="#ec1052" stroke-width="0.9"/>
<text x="489.42" y="955.5" font-size="15.6" fill="#111" textLength="22.52" lengthAdjust="spacingAndGlyphs">KO</text>
</svg></body></html>
